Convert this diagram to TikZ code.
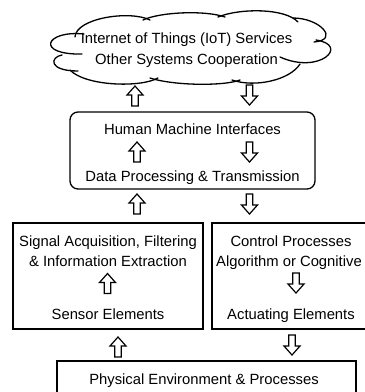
\documentclass[tikz,border=0pt]{standalone}
\usepackage{fontspec}
\setmainfont{Liberation Sans}
\begin{document}
\begin{tikzpicture}[x=1pt, y=-1pt,
  frame/.style={draw=black, line width=1.3pt, fill=none, inner sep=0pt},
  lbl/.style={anchor=base, inner sep=0pt, font=\fontsize{14.8}{17}\selectfont},
  cloudline/.style={draw=black, line width=1.3pt, line cap=round},
  arrowline/.style={draw=black, line width=1.2pt, line join=miter},
  pics/uparrow/.style={code={
    \draw[arrowline] (-3.3,10) -- (-3.3,-1) -- (-8,-1) -- (0,-10)
      -- (8,-1) -- (3.3,-1) -- (3.3,10) -- cycle;}},
  pics/downarrow/.style={code={
    \draw[arrowline] (-3.3,-10) -- (-3.3,1) -- (-8,1) -- (0,10)
      -- (8,1) -- (3.3,1) -- (3.3,-10) -- cycle;}},
]
\clip (0,0) rectangle (365,392);

% --- cloud: IoT services ---
\draw[cloudline] (84,34) .. controls (45,30) and (35,55) .. (82,54);
\draw[cloudline] (62,55) .. controls (50,57) and (48,71) .. (78,71);
\draw[cloudline] (70,70) .. controls (85,86) and (140,88) .. (158,78);
\draw[cloudline] (150,78) .. controls (175,86) and (225,86) .. (240,80);
\draw[cloudline] (232,80) .. controls (255,88) and (290,80) .. (300,64);
\draw[cloudline] (316,40) .. controls (350,45) and (320,75) .. (280,57);
\draw[cloudline] (293,18) .. controls (320,18) and (340,40) .. (314,42);
\draw[cloudline] (75,37) .. controls (76,18) and (130,10) .. (150,20);
\draw[cloudline] (143,20) .. controls (160,12) and (205,10) .. (225,17);
\draw[cloudline] (218,17) .. controls (240,8) and (285,8) .. (298,22);
\node[lbl] (iot) at (186.5,43) {Internet of Things (IoT) Services};
\node[lbl] (coop) at (186.5,64) {Other Systems Cooperation};

% --- human machine interface block ---
\node[frame, rounded corners=8pt, minimum width=245pt, minimum height=77pt] (hmi) at (192.5,150.5) {};
\node[lbl] (hmitxt) at (192.5,134) {Human Machine Interfaces};
\node[lbl] (dptxt) at (192.5,181) {Data Processing \& Transmission};

% --- sensing and actuation blocks ---
\node[frame, minimum width=190pt, minimum height=106pt] (sense) at (108,276) {};
\node[lbl] (sig) at (108,246.7) {Signal Acquisition, Filtering};
\node[lbl] (info) at (108,266.7) {\& Information Extraction};
\node[lbl] (sensor) at (108,319.3) {Sensor Elements};

\node[frame, minimum width=158pt, minimum height=106pt] (act) at (291,276) {};
\node[lbl] (ctrl) at (291,246.7) {Control Processes};
\node[lbl] (algo) at (289,266.7) {Algorithm or Cognitive};
\node[lbl] (actel) at (291,319.3) {Actuating Elements};

% --- physical environment ---
\node[frame, minimum width=299pt, minimum height=48pt] (phys) at (206.5,385) {};
\node[lbl] (phystxt) at (204,384.3) {Physical Environment \& Processes};

% --- block arrows ---
\pic at (135,96) {uparrow};
\pic at (249.5,95) {downarrow};
\pic at (137,152) {uparrow};
\pic at (249.5,152) {downarrow};
\pic at (137,204) {uparrow};
\pic at (249.5,204) {downarrow};
\pic at (107.5,283.5) {uparrow};
\pic at (296,283) {downarrow};
\pic at (118,347) {uparrow};
\pic at (292,345) {downarrow};
\end{tikzpicture}
\end{document}
